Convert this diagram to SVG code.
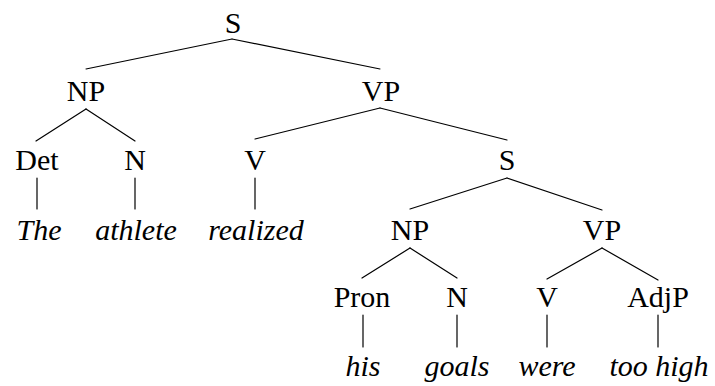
<svg xmlns="http://www.w3.org/2000/svg" width="715" height="386" viewBox="0 0 715 386">
<style>
.t{font-family:"Liberation Serif",serif;font-size:30px;fill:#000;text-anchor:middle}
.w{font-style:italic}
#edges line{stroke:#000;stroke-width:1.2;stroke-linecap:round}
</style>
<rect width="715" height="386" fill="#fff"/>
<g id="edges">
<line x1="232" y1="39" x2="86" y2="69"/>
<line x1="232" y1="39" x2="380" y2="69"/>
<line x1="86" y1="109" x2="36" y2="141"/>
<line x1="86" y1="109" x2="135" y2="141"/>
<line x1="380" y1="108" x2="255" y2="139"/>
<line x1="380" y1="108" x2="507" y2="140"/>
<line x1="37" y1="178" x2="37" y2="209"/>
<line x1="135" y1="178" x2="135" y2="209"/>
<line x1="255" y1="178" x2="255" y2="209"/>
<line x1="507" y1="178" x2="410" y2="209"/>
<line x1="507" y1="178" x2="602" y2="210"/>
<line x1="410" y1="248" x2="362" y2="278"/>
<line x1="410" y1="248" x2="457" y2="278"/>
<line x1="602" y1="248" x2="547" y2="279"/>
<line x1="602" y1="248" x2="658" y2="280"/>
<line x1="363" y1="315" x2="363" y2="347"/>
<line x1="457" y1="315" x2="457" y2="347"/>
<line x1="547" y1="315" x2="547" y2="347"/>
<line x1="658" y1="315" x2="658" y2="347"/>
</g>
<g class="t">
<g id="n_S1"><text x="233" y="33">S</text></g>
<g id="n_NP1"><text x="86" y="101">NP</text></g>
<g id="n_VP1"><text x="381" y="101">VP</text></g>
<g id="n_Det"><text x="37" y="170">Det</text></g>
<g id="n_N1"><text x="135" y="170">N</text></g>
<g id="n_V1"><text x="255" y="170">V</text></g>
<g id="n_S2"><text x="507" y="170">S</text></g>
<g id="w_The"><text class="w" x="39" y="240">The</text></g>
<g id="w_athlete"><text class="w" x="136" y="240">athlete</text></g>
<g id="w_realized"><text class="w" x="256" y="240">realized</text></g>
<g id="n_NP2"><text x="410" y="240">NP</text></g>
<g id="n_VP2"><text x="602" y="240">VP</text></g>
<g id="n_Pron"><text x="362" y="307">Pron</text></g>
<g id="n_N2"><text x="457" y="307">N</text></g>
<g id="n_V2"><text x="547" y="307">V</text></g>
<g id="n_AdjP"><text x="658" y="307">AdjP</text></g>
<g id="w_his"><text class="w" x="363" y="376">his</text></g>
<g id="w_goals"><text class="w" x="457" y="376">goals</text></g>
<g id="w_were"><text class="w" x="547" y="376">were</text></g>
<g id="w_toohigh"><text class="w" x="659" y="376">too high</text></g>
</g>
</svg>
